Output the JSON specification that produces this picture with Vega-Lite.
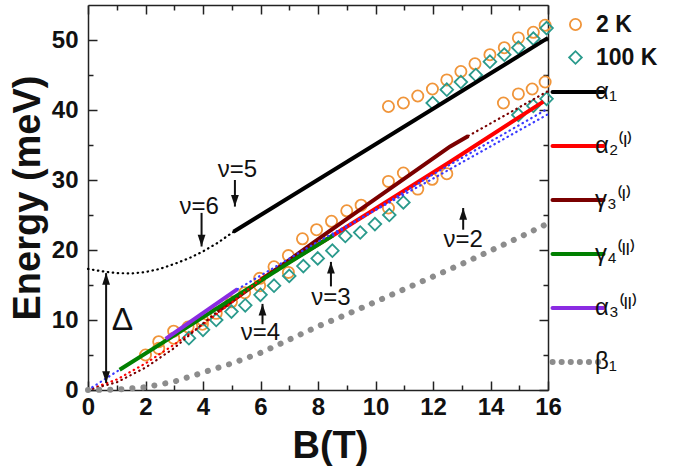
{
  "$schema": "https://vega.github.io/schema/vega-lite/v6.json",
  "width": 460,
  "height": 385,
  "autosize": "none",
  "padding": {"left": 88, "top": 5, "right": 125, "bottom": 76},
  "background": "white",
  "config": {
    "view": {"stroke": null},
    "axis": {
      "domainColor": "#222222", "domainWidth": 1.5,
      "tickColor": "#222222", "tickWidth": 1.5,
      "grid": false,
      "labelFont": "Liberation Sans", "labelFontWeight": "bold", "labelFontSize": 24, "labelColor": "#111111",
      "labelOverlap": false, "labelFlush": false,
      "titleFont": "Liberation Sans", "titleFontWeight": "bold", "titleColor": "#111111"
    }
  },
  "datasets": {
    "pts": [
      {"B": 2.0, "E": 5.0, "T": "2 K"}, {"B": 2.46, "E": 6.9, "T": "2 K"}, {"B": 2.46, "E": 5.95, "T": "2 K"},
      {"B": 2.98, "E": 8.4, "T": "2 K"}, {"B": 2.98, "E": 7.4, "T": "2 K"}, {"B": 3.48, "E": 9.0, "T": "2 K"},
      {"B": 3.98, "E": 10.0, "T": "2 K"}, {"B": 3.98, "E": 9.4, "T": "2 K"}, {"B": 4.46, "E": 10.95, "T": "2 K"},
      {"B": 4.99, "E": 12.6, "T": "2 K"}, {"B": 5.45, "E": 13.9, "T": "2 K"}, {"B": 5.97, "E": 15.95, "T": "2 K"},
      {"B": 5.97, "E": 14.9, "T": "2 K"}, {"B": 6.47, "E": 17.6, "T": "2 K"}, {"B": 6.97, "E": 19.2, "T": "2 K"},
      {"B": 6.97, "E": 16.8, "T": "2 K"}, {"B": 7.46, "E": 21.6, "T": "2 K"}, {"B": 7.95, "E": 22.9, "T": "2 K"},
      {"B": 8.47, "E": 24.1, "T": "2 K"}, {"B": 9.0, "E": 25.6, "T": "2 K"}, {"B": 9.5, "E": 26.4, "T": "2 K"},
      {"B": 10.45, "E": 29.8, "T": "2 K"}, {"B": 10.45, "E": 26.0, "T": "2 K"}, {"B": 10.97, "E": 31.0, "T": "2 K"},
      {"B": 11.47, "E": 28.7, "T": "2 K"}, {"B": 11.97, "E": 30.1, "T": "2 K"}, {"B": 12.48, "E": 30.9, "T": "2 K"},
      {"B": 10.45, "E": 40.5, "T": "2 K"}, {"B": 10.97, "E": 41.0, "T": "2 K"}, {"B": 11.47, "E": 42.0, "T": "2 K"},
      {"B": 11.98, "E": 43.0, "T": "2 K"}, {"B": 12.48, "E": 44.3, "T": "2 K"}, {"B": 12.97, "E": 45.5, "T": "2 K"},
      {"B": 13.46, "E": 46.6, "T": "2 K"}, {"B": 13.98, "E": 47.9, "T": "2 K"}, {"B": 14.48, "E": 48.9, "T": "2 K"},
      {"B": 14.97, "E": 50.3, "T": "2 K"}, {"B": 15.49, "E": 51.1, "T": "2 K"}, {"B": 15.9, "E": 52.1, "T": "2 K"},
      {"B": 14.45, "E": 41.0, "T": "2 K"}, {"B": 14.97, "E": 42.3, "T": "2 K"}, {"B": 15.45, "E": 43.0, "T": "2 K"},
      {"B": 15.9, "E": 44.0, "T": "2 K"},
      {"B": 3.51, "E": 7.4, "T": "100 K"}, {"B": 4.0, "E": 8.6, "T": "100 K"}, {"B": 4.46, "E": 10.0, "T": "100 K"},
      {"B": 4.99, "E": 11.2, "T": "100 K"}, {"B": 5.47, "E": 12.1, "T": "100 K"}, {"B": 6.0, "E": 13.6, "T": "100 K"},
      {"B": 6.47, "E": 14.9, "T": "100 K"}, {"B": 7.0, "E": 16.3, "T": "100 K"}, {"B": 7.49, "E": 17.7, "T": "100 K"},
      {"B": 7.99, "E": 18.8, "T": "100 K"}, {"B": 8.5, "E": 19.9, "T": "100 K"}, {"B": 8.95, "E": 22.0, "T": "100 K"},
      {"B": 9.47, "E": 22.5, "T": "100 K"}, {"B": 9.98, "E": 23.7, "T": "100 K"}, {"B": 10.48, "E": 25.0, "T": "100 K"},
      {"B": 10.97, "E": 26.8, "T": "100 K"},
      {"B": 11.99, "E": 41.0, "T": "100 K"}, {"B": 12.48, "E": 42.9, "T": "100 K"}, {"B": 12.97, "E": 44.0, "T": "100 K"},
      {"B": 13.49, "E": 45.0, "T": "100 K"}, {"B": 13.98, "E": 46.9, "T": "100 K"}, {"B": 14.48, "E": 47.9, "T": "100 K"},
      {"B": 14.97, "E": 48.9, "T": "100 K"}, {"B": 15.49, "E": 50.2, "T": "100 K"}, {"B": 15.95, "E": 51.7, "T": "100 K"},
      {"B": 14.97, "E": 39.3, "T": "100 K"}, {"B": 15.49, "E": 40.6, "T": "100 K"}, {"B": 15.95, "E": 41.6, "T": "100 K"}
    ],
    "curves": [
      {"B": 5.06, "E": 22.6, "curve": "α₁", "seg": "a1s", "style": "solid"},
      {"B": 16.0, "E": 50.3, "curve": "α₁", "seg": "a1s", "style": "solid"},
      {"B": 0.0, "E": 17.3, "curve": "α₁", "seg": "a1d", "style": "dot"},
      {"B": 0.5, "E": 16.95, "curve": "α₁", "seg": "a1d", "style": "dot"},
      {"B": 1.0, "E": 16.7, "curve": "α₁", "seg": "a1d", "style": "dot"},
      {"B": 1.5, "E": 16.65, "curve": "α₁", "seg": "a1d", "style": "dot"},
      {"B": 2.0, "E": 16.85, "curve": "α₁", "seg": "a1d", "style": "dot"},
      {"B": 2.5, "E": 17.3, "curve": "α₁", "seg": "a1d", "style": "dot"},
      {"B": 3.0, "E": 18.0, "curve": "α₁", "seg": "a1d", "style": "dot"},
      {"B": 3.5, "E": 18.8, "curve": "α₁", "seg": "a1d", "style": "dot"},
      {"B": 4.0, "E": 19.8, "curve": "α₁", "seg": "a1d", "style": "dot"},
      {"B": 4.5, "E": 21.0, "curve": "α₁", "seg": "a1d", "style": "dot"},
      {"B": 5.06, "E": 22.6, "curve": "α₁", "seg": "a1d", "style": "dot"},
      {"B": 6.0, "E": 15.8, "curve": "α₂⁽ᴵ⁾", "seg": "a2s", "style": "solid"},
      {"B": 8.53, "E": 22.1, "curve": "α₂⁽ᴵ⁾", "seg": "a2s", "style": "solid"},
      {"B": 12.6, "E": 32.6, "curve": "α₂⁽ᴵ⁾", "seg": "a2s", "style": "solid"},
      {"B": 15.84, "E": 41.2, "curve": "α₂⁽ᴵ⁾", "seg": "a2s", "style": "solid"},
      {"B": 0.0, "E": 0.0, "curve": "α₂⁽ᴵ⁾", "seg": "a2d", "style": "dot"},
      {"B": 1.0, "E": 1.5, "curve": "α₂⁽ᴵ⁾", "seg": "a2d", "style": "dot"},
      {"B": 2.0, "E": 3.8, "curve": "α₂⁽ᴵ⁾", "seg": "a2d", "style": "dot"},
      {"B": 3.0, "E": 6.5, "curve": "α₂⁽ᴵ⁾", "seg": "a2d", "style": "dot"},
      {"B": 4.0, "E": 9.4, "curve": "α₂⁽ᴵ⁾", "seg": "a2d", "style": "dot"},
      {"B": 5.0, "E": 12.5, "curve": "α₂⁽ᴵ⁾", "seg": "a2d", "style": "dot"},
      {"B": 6.0, "E": 15.8, "curve": "α₂⁽ᴵ⁾", "seg": "a2d", "style": "dot"},
      {"B": 4.5, "E": 11.2, "curve": "γ₃⁽ᴵ⁾", "seg": "g3s", "style": "solid"},
      {"B": 8.3, "E": 22.4, "curve": "γ₃⁽ᴵ⁾", "seg": "g3s", "style": "solid"},
      {"B": 12.6, "E": 34.8, "curve": "γ₃⁽ᴵ⁾", "seg": "g3s", "style": "solid"},
      {"B": 13.23, "E": 36.3, "curve": "γ₃⁽ᴵ⁾", "seg": "g3s", "style": "solid"},
      {"B": 0.0, "E": 0.0, "curve": "γ₃⁽ᴵ⁾", "seg": "g3d", "style": "dot"},
      {"B": 1.0, "E": 1.1, "curve": "γ₃⁽ᴵ⁾", "seg": "g3d", "style": "dot"},
      {"B": 2.0, "E": 3.2, "curve": "γ₃⁽ᴵ⁾", "seg": "g3d", "style": "dot"},
      {"B": 3.0, "E": 6.0, "curve": "γ₃⁽ᴵ⁾", "seg": "g3d", "style": "dot"},
      {"B": 4.0, "E": 9.5, "curve": "γ₃⁽ᴵ⁾", "seg": "g3d", "style": "dot"},
      {"B": 4.5, "E": 11.2, "curve": "γ₃⁽ᴵ⁾", "seg": "g3d", "style": "dot"},
      {"B": 13.23, "E": 36.3, "curve": "γ₃⁽ᴵ⁾", "seg": "g3e", "style": "dot"},
      {"B": 16.0, "E": 42.7, "curve": "γ₃⁽ᴵ⁾", "seg": "g3e", "style": "dot"},
      {"B": 1.1, "E": 2.9, "curve": "γ₄⁽ᴵᴵ⁾", "seg": "g4s", "style": "solid"},
      {"B": 3.0, "E": 7.8, "curve": "γ₄⁽ᴵᴵ⁾", "seg": "g4s", "style": "solid"},
      {"B": 5.0, "E": 13.0, "curve": "γ₄⁽ᴵᴵ⁾", "seg": "g4s", "style": "solid"},
      {"B": 7.0, "E": 18.2, "curve": "γ₄⁽ᴵᴵ⁾", "seg": "g4s", "style": "solid"},
      {"B": 8.53, "E": 22.1, "curve": "γ₄⁽ᴵᴵ⁾", "seg": "g4s", "style": "solid"},
      {"B": 2.7, "E": 7.3, "curve": "α₃⁽ᴵᴵ⁾", "seg": "a3s", "style": "solid"},
      {"B": 5.2, "E": 14.4, "curve": "α₃⁽ᴵᴵ⁾", "seg": "a3s", "style": "solid"},
      {"B": 0.0, "E": 0.0, "curve": "fit", "seg": "f1", "style": "dot"},
      {"B": 1.1, "E": 2.9, "curve": "fit", "seg": "f1", "style": "dot"},
      {"B": 8.53, "E": 22.1, "curve": "fit", "seg": "f2", "style": "dot"},
      {"B": 12.0, "E": 30.8, "curve": "fit", "seg": "f2", "style": "dot"},
      {"B": 16.0, "E": 40.2, "curve": "fit", "seg": "f2", "style": "dot"},
      {"B": 5.2, "E": 14.4, "curve": "fit", "seg": "f3", "style": "dot"},
      {"B": 8.0, "E": 21.2, "curve": "fit", "seg": "f3", "style": "dot"},
      {"B": 12.0, "E": 30.2, "curve": "fit", "seg": "f3", "style": "dot"},
      {"B": 16.0, "E": 39.4, "curve": "fit", "seg": "f3", "style": "dot"},
      {"B": 0.0, "E": 0.0, "curve": "β₁", "seg": "b1", "style": "bigdot"},
      {"B": 1.0, "E": 0.05, "curve": "β₁", "seg": "b1", "style": "bigdot"},
      {"B": 2.0, "E": 0.4, "curve": "β₁", "seg": "b1", "style": "bigdot"},
      {"B": 3.0, "E": 1.2, "curve": "β₁", "seg": "b1", "style": "bigdot"},
      {"B": 4.0, "E": 2.5, "curve": "β₁", "seg": "b1", "style": "bigdot"},
      {"B": 5.0, "E": 3.8, "curve": "β₁", "seg": "b1", "style": "bigdot"},
      {"B": 6.0, "E": 5.3, "curve": "β₁", "seg": "b1", "style": "bigdot"},
      {"B": 7.0, "E": 7.2, "curve": "β₁", "seg": "b1", "style": "bigdot"},
      {"B": 8.0, "E": 9.1, "curve": "β₁", "seg": "b1", "style": "bigdot"},
      {"B": 9.0, "E": 10.8, "curve": "β₁", "seg": "b1", "style": "bigdot"},
      {"B": 10.0, "E": 12.6, "curve": "β₁", "seg": "b1", "style": "bigdot"},
      {"B": 11.0, "E": 14.4, "curve": "β₁", "seg": "b1", "style": "bigdot"},
      {"B": 12.0, "E": 16.2, "curve": "β₁", "seg": "b1", "style": "bigdot"},
      {"B": 13.0, "E": 18.0, "curve": "β₁", "seg": "b1", "style": "bigdot"},
      {"B": 14.0, "E": 19.9, "curve": "β₁", "seg": "b1", "style": "bigdot"},
      {"B": 15.0, "E": 21.8, "curve": "β₁", "seg": "b1", "style": "bigdot"},
      {"B": 16.0, "E": 23.8, "curve": "β₁", "seg": "b1", "style": "bigdot"}
    ],
    "notes": [
      {"B": 5.2, "E": 31.4, "label": "ν=5"},
      {"B": 3.87, "E": 26.2, "label": "ν=6"},
      {"B": 6.0, "E": 8.1, "label": "ν=4"},
      {"B": 8.45, "E": 13.1, "label": "ν=3"},
      {"B": 13.05, "E": 21.4, "label": "ν=2"}
    ],
    "arrows": [
      {"B": 5.11, "E": 30.0, "E2": 26.2},
      {"B": 3.95, "E": 25.3, "E2": 20.5},
      {"B": 6.07, "E": 9.4, "E2": 12.3},
      {"B": 8.45, "E": 14.8, "E2": 18.3},
      {"B": 13.05, "E": 22.9, "E2": 26.0},
      {"B": 0.63, "E": 1.0, "E2": 16.7}
    ],
    "heads": [
      {"B": 5.11, "E": 26.2, "dir": "down"},
      {"B": 3.95, "E": 20.5, "dir": "down"},
      {"B": 6.07, "E": 12.3, "dir": "up"},
      {"B": 8.45, "E": 18.3, "dir": "up"},
      {"B": 13.05, "E": 26.0, "dir": "up"},
      {"B": 0.63, "E": 16.7, "dir": "up"},
      {"B": 0.63, "E": 1.0, "dir": "down"}
    ]
  },
  "layer": [
    {
      "data": {"name": "pts"},
      "mark": {"type": "point", "filled": false, "strokeWidth": 1.8, "opacity": 1},
      "encoding": {
        "x": {
          "field": "B", "type": "quantitative",
          "scale": {"domain": [0, 16], "nice": false},
          "axis": {
            "orient": "bottom",
            "values": [0, 1, 2, 3, 4, 5, 6, 7, 8, 9, 10, 11, 12, 13, 14, 15, 16],
            "labelExpr": "datum.value % 2 === 0 ? datum.label : ''",
            "tickSize": {"condition": {"test": "datum.value % 2 !== 0", "value": -5}, "value": -9},
            "labelPadding": 14,
            "title": "B(T)", "titleFontSize": 38, "titlePadding": 4, "titleX": 242
          }
        },
        "y": {
          "field": "E", "type": "quantitative",
          "scale": {"domain": [0, 55], "nice": false},
          "axis": {
            "orient": "left",
            "values": [0, 5, 10, 15, 20, 25, 30, 35, 40, 45, 50],
            "labelExpr": "datum.value % 10 === 0 ? datum.label : ''",
            "tickSize": {"condition": {"test": "datum.value % 10 !== 0", "value": -5}, "value": -9},
            "labelPadding": 19,
            "title": "Energy (meV)", "titleFontSize": 38, "titlePadding": 4
          }
        },
        "color": {
          "field": "T", "type": "nominal",
          "scale": {"domain": ["2 K", "100 K"], "range": ["#f0953a", "#2a9a8c"]},
          "legend": {
            "title": null, "orient": "none", "legendX": 476, "legendY": 8, "direction": "vertical", "padding": 0,
            "labelFont": "Liberation Sans", "labelFontWeight": "bold", "labelFontSize": 23, "labelColor": "#111111",
            "symbolSize": 100, "symbolStrokeWidth": 1.8, "rowPadding": 9, "labelOffset": 9
          }
        },
        "shape": {
          "field": "T", "type": "nominal",
          "scale": {"domain": ["2 K", "100 K"], "range": ["circle", "diamond"]},
          "legend": {
            "title": null, "orient": "none", "legendX": 476, "legendY": 8, "direction": "vertical", "padding": 0,
            "labelFont": "Liberation Sans", "labelFontWeight": "bold", "labelFontSize": 23, "labelColor": "#111111",
            "symbolSize": 100, "symbolStrokeWidth": 1.8, "rowPadding": 9, "labelOffset": 9
          }
        },
        "size": {
          "field": "T", "type": "nominal",
          "scale": {"domain": ["2 K", "100 K"], "range": [125, 160]},
          "legend": null
        }
      }
    },
    {
      "data": {"name": "curves"},
      "transform": [{"filter": "datum.style === 'solid'"}],
      "mark": {"type": "line", "strokeWidth": 4, "strokeCap": "butt"},
      "encoding": {
        "x": {"field": "B", "type": "quantitative", "scale": {"domain": [0, 16], "nice": false}, "axis": null},
        "y": {"field": "E", "type": "quantitative", "scale": {"domain": [0, 55], "nice": false}, "axis": null},
        "detail": {"field": "seg"},
        "stroke": {
          "field": "curve", "type": "nominal",
          "scale": {
            "domain": ["α₁", "α₂⁽ᴵ⁾", "γ₃⁽ᴵ⁾", "γ₄⁽ᴵᴵ⁾", "α₃⁽ᴵᴵ⁾", "β₁", "fit"],
            "range": ["#000000", "#ff0000", "#7a0000", "#008000", "#8a2be2", "#8c8c8c", "#3a3aff"]
          },
          "legend": {
            "title": null, "orient": "none", "legendX": 478, "legendY": 75, "direction": "vertical", "padding": 0,
            "values": ["α₁", "α₂⁽ᴵ⁾", "γ₃⁽ᴵ⁾", "γ₄⁽ᴵᴵ⁾", "α₃⁽ᴵᴵ⁾", "β₁"],
            "symbolType": "stroke", "symbolSize": 2600, "symbolStrokeWidth": 4,
            "labelFont": "Liberation Sans", "labelFontSize": 24, "labelFontWeight": "normal", "labelColor": "#111111",
            "labelOffset": 5, "rowPadding": 30,
            "encode": {
              "symbols": {
                "update": {
                  "strokeDash": {"signal": "datum.value === 'β₁' ? [0.1, 9] : [1, 0]"},
                  "strokeCap": {"value": "round"},
                  "strokeWidth": {"signal": "datum.value === 'β₁' ? 6 : 4"}
                }
              }
            }
          }
        }
      }
    },
    {
      "data": {"name": "curves"},
      "transform": [{"filter": "datum.style === 'dot'"}],
      "mark": {"type": "line", "strokeWidth": 2.2, "strokeDash": [0.5, 4.5], "strokeCap": "round"},
      "encoding": {
        "x": {"field": "B", "type": "quantitative", "scale": {"domain": [0, 16], "nice": false}, "axis": null},
        "y": {"field": "E", "type": "quantitative", "scale": {"domain": [0, 55], "nice": false}, "axis": null},
        "detail": {"field": "seg"},
        "stroke": {"field": "curve", "type": "nominal"}
      }
    },
    {
      "data": {"name": "curves"},
      "transform": [{"filter": "datum.style === 'bigdot'"}],
      "mark": {"type": "line", "strokeWidth": 6, "strokeDash": [0.1, 11], "strokeCap": "round"},
      "encoding": {
        "x": {"field": "B", "type": "quantitative", "scale": {"domain": [0, 16], "nice": false}, "axis": null},
        "y": {"field": "E", "type": "quantitative", "scale": {"domain": [0, 55], "nice": false}, "axis": null},
        "detail": {"field": "seg"},
        "stroke": {"field": "curve", "type": "nominal"}
      }
    },
    {
      "data": {"name": "arrows"},
      "mark": {"type": "rule", "strokeWidth": 2, "color": "#111111"},
      "encoding": {
        "x": {"field": "B", "type": "quantitative", "scale": {"domain": [0, 16], "nice": false}, "axis": null},
        "y": {"field": "E", "type": "quantitative", "scale": {"domain": [0, 55], "nice": false}, "axis": null},
        "y2": {"field": "E2"}
      }
    },
    {
      "data": {"name": "heads"},
      "transform": [{"filter": "datum.dir === 'down'"}],
      "mark": {"type": "point", "shape": "M0,0L-0.45,-1.35L0.45,-1.35Z", "filled": true, "color": "#111111", "size": 300, "opacity": 1},
      "encoding": {
        "x": {"field": "B", "type": "quantitative", "scale": {"domain": [0, 16], "nice": false}, "axis": null},
        "y": {"field": "E", "type": "quantitative", "scale": {"domain": [0, 55], "nice": false}, "axis": null}
      }
    },
    {
      "data": {"name": "heads"},
      "transform": [{"filter": "datum.dir === 'up'"}],
      "mark": {"type": "point", "shape": "M0,0L-0.45,1.35L0.45,1.35Z", "filled": true, "color": "#111111", "size": 300, "opacity": 1},
      "encoding": {
        "x": {"field": "B", "type": "quantitative", "scale": {"domain": [0, 16], "nice": false}, "axis": null},
        "y": {"field": "E", "type": "quantitative", "scale": {"domain": [0, 55], "nice": false}, "axis": null}
      }
    },
    {
      "data": {"values": [{"B": 1.2, "E": 10.0, "label": "Δ"}]},
      "mark": {"type": "text", "font": "Liberation Sans", "fontSize": 32, "color": "#111111"},
      "encoding": {
        "x": {"field": "B", "type": "quantitative", "scale": {"domain": [0, 16], "nice": false}, "axis": null},
        "y": {"field": "E", "type": "quantitative", "scale": {"domain": [0, 55], "nice": false}, "axis": null},
        "text": {"field": "label"}
      }
    },
    {
      "data": {"name": "notes"},
      "mark": {"type": "text", "font": "Liberation Sans", "fontSize": 24, "color": "#111111"},
      "encoding": {
        "x": {
          "field": "B", "type": "quantitative", "scale": {"domain": [0, 16], "nice": false},
          "axis": {
            "orient": "top", "labels": false, "title": null,
            "values": [0, 1, 2, 3, 4, 5, 6, 7, 8, 9, 10, 11, 12, 13, 14, 15, 16],
            "tickSize": {"condition": {"test": "datum.value % 2 !== 0", "value": -5}, "value": -9}
          }
        },
        "y": {
          "field": "E", "type": "quantitative", "scale": {"domain": [0, 55], "nice": false},
          "axis": {
            "orient": "right", "labels": false, "title": null,
            "values": [0, 5, 10, 15, 20, 25, 30, 35, 40, 45, 50],
            "tickSize": {"condition": {"test": "datum.value % 10 !== 0", "value": -5}, "value": -9}
          }
        },
        "text": {"field": "label"}
      }
    }
  ],
  "resolve": {"axis": {"x": "independent", "y": "independent"}}
}
